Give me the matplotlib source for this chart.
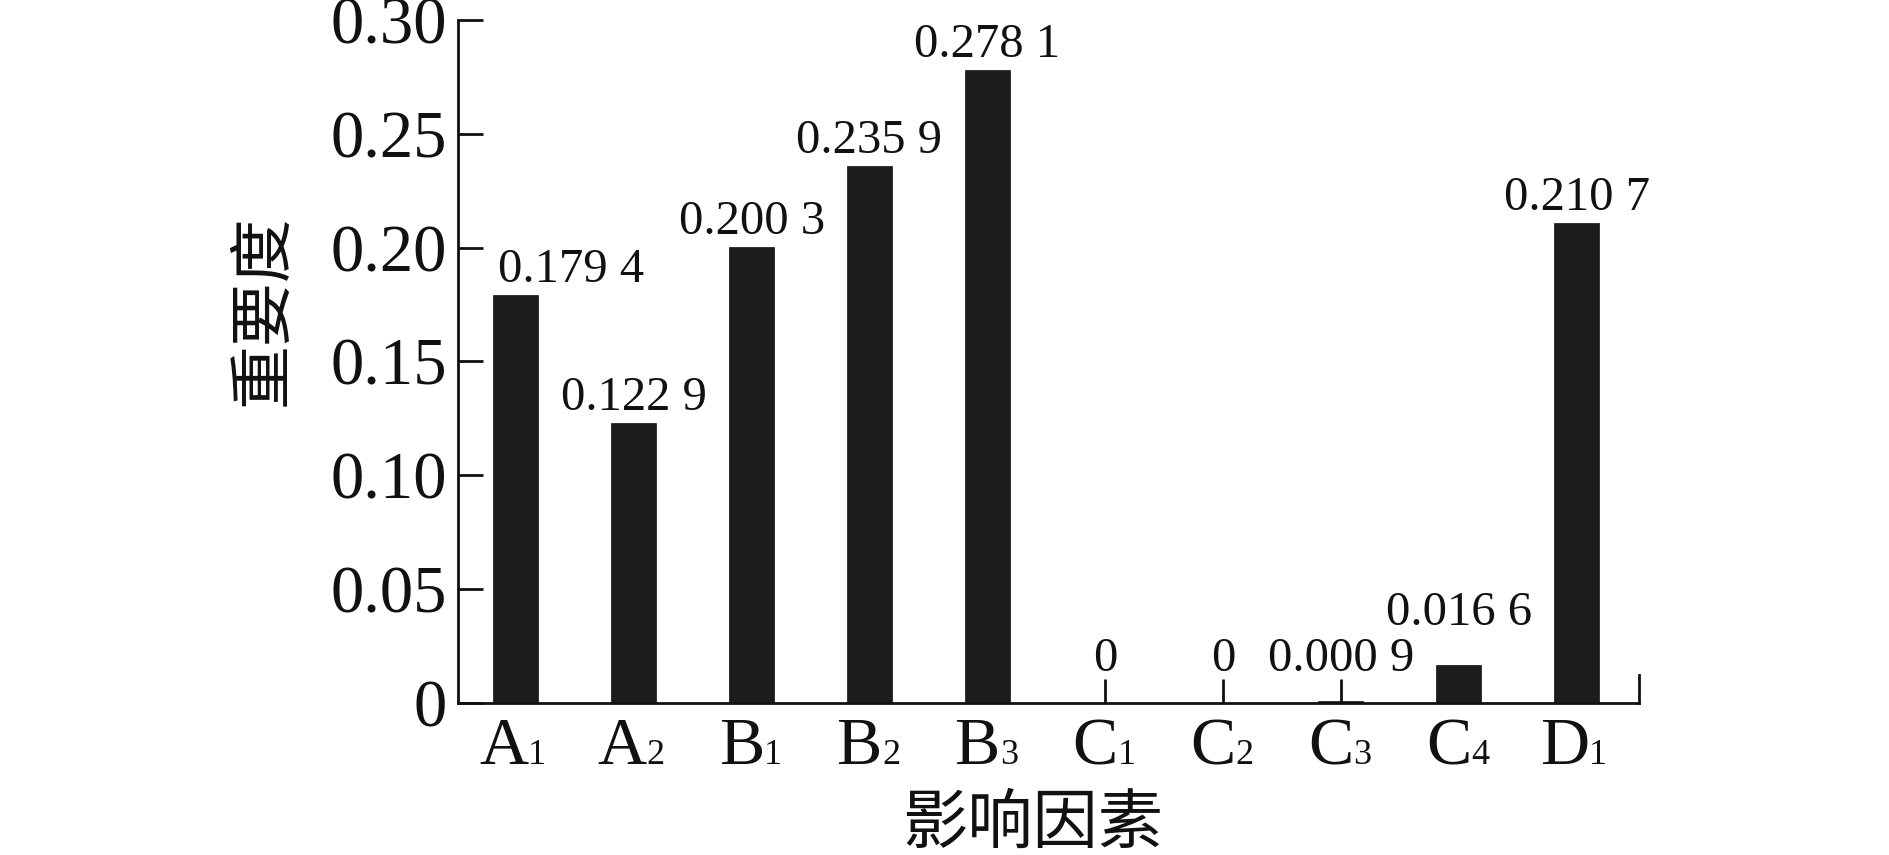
import matplotlib
matplotlib.use('Agg')
import matplotlib.pyplot as plt
import numpy as np

letters = ['A', 'A', 'B', 'B', 'B', 'C', 'C', 'C', 'C', 'D']
subs = ['1', '2', '1', '2', '3', '1', '2', '3', '4', '1']
values = [0.1794, 0.1229, 0.2003, 0.2359, 0.2781, 0.0, 0.0, 0.0009, 0.0166, 0.2107]
value_labels = ['0.179 4', '0.122 9', '0.200 3', '0.235 9', '0.278 1',
                '0', '0', '0.000 9', '0.016 6', '0.210 7']
yticks = [0, 0.05, 0.10, 0.15, 0.20, 0.25, 0.30]
ytick_labels = ['0', '0.05', '0.10', '0.15', '0.20', '0.25', '0.30']
xlabel = '影响因素'
ylabel = '重要度'

plt.rcParams['font.family'] = ['Liberation Serif', 'Noto Sans CJK SC']
cjk = ['Noto Sans CJK SC', 'DejaVu Sans']
ink = '#111111'
DPI = 100

fig = plt.figure(figsize=(18.89, 8.55), dpi=DPI)
ax = fig.add_axes([0.2425, 0.1778, 0.6252, 0.7988])
x = np.arange(len(values))
ax.bar(x, values, width=0.38, color='#1c1c1c', edgecolor=ink,
       linewidth=0.5, zorder=2)
ax.set_xlim(-0.49, 9.53)
ax.set_ylim(0, 0.30)
ax.set_yticks(yticks)
ax.set_yticklabels(ytick_labels, fontsize=48)
ax.set_xticks(x)
ax.set_xticklabels([])
ax.tick_params(axis='y', direction='in', length=18, width=2, pad=8, colors=ink)
ax.tick_params(axis='x', direction='in', length=17, width=2, colors=ink)
for s in ['left', 'bottom', 'right']:
    ax.spines[s].set_linewidth(2)
    ax.spines[s].set_color(ink)
ax.spines['top'].set_visible(False)
ax.spines['right'].set_bounds(0, 0.0125)

# value labels: baseline heights in pixels above the x axis
ppu = 0.7988 * 8.55 * DPI / 0.30          # pixels per data unit
tick_px = 17 * DPI / 72.0
base_px = []
for i, v in enumerate(values):
    bar_px = v * ppu
    b = bar_px + 13 if bar_px > tick_px else tick_px + 8
    if i > 0 and len(value_labels[i]) > 1 and len(value_labels[i - 1]) > 1 \
            and abs(b - base_px[i - 1]) < 40:
        b = base_px[i - 1] + 46
    base_px.append(b)

for i, lab in enumerate(value_labels):
    dy = base_px[i] * 72.0 / DPI
    if i == 0:
        ax.annotate(lab, (x[i] - 0.19, 0), xytext=(3, dy), textcoords='offset points',
                    ha='left', va='baseline', fontsize=35, color=ink,
                    annotation_clip=False)
    else:
        ax.annotate(lab, (x[i], 0), xytext=(0, dy), textcoords='offset points',
                    ha='center', va='baseline', fontsize=35, color=ink,
                    annotation_clip=False)

for xi, L, S in zip(x, letters, subs):
    ax.annotate(L, (xi, 0), xycoords=('data', 'axes fraction'), xytext=(9, -44),
                textcoords='offset points', ha='right', va='baseline', fontsize=49,
                color=ink, annotation_clip=False)
    ax.annotate(S, (xi, 0), xycoords=('data', 'axes fraction'), xytext=(9, -44),
                textcoords='offset points', ha='left', va='baseline', fontsize=26,
                color=ink, annotation_clip=False)

ax.set_xlabel(xlabel, fontsize=47, family=cjk, va='center', color=ink)
ax.xaxis.set_label_coords(0.487, -0.178)
ax.set_ylabel(ylabel, fontsize=46, family=cjk, va='center', color=ink)
ax.yaxis.set_label_coords(-0.165, 0.575)

fig.savefig('out.png', dpi=DPI)
